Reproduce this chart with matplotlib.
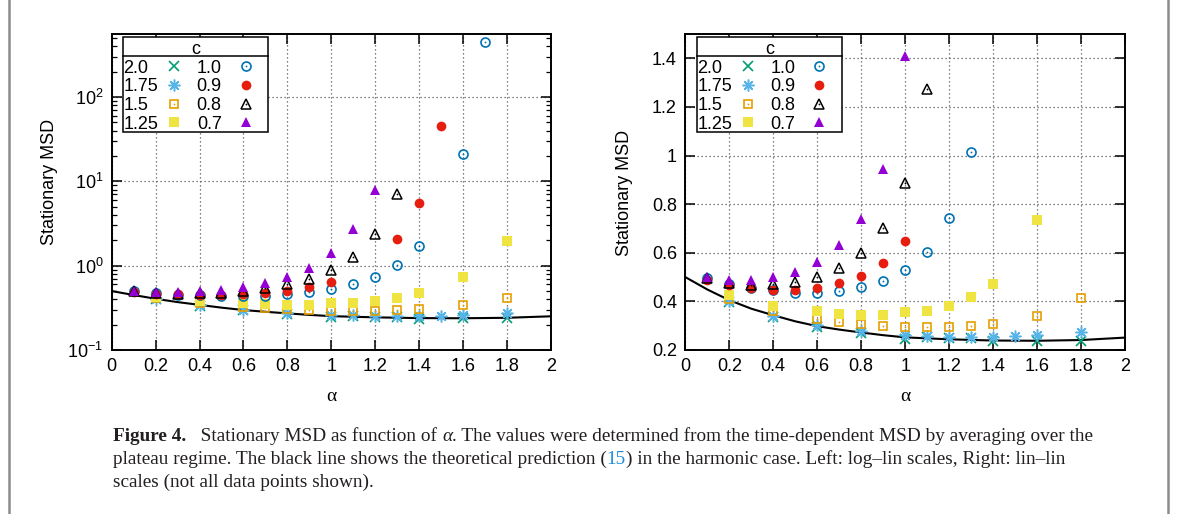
import numpy as np
import matplotlib
matplotlib.use("Agg")
import matplotlib.pyplot as plt
from matplotlib.lines import Line2D
from matplotlib.patches import Rectangle
from matplotlib.ticker import LogLocator, NullFormatter, FormatStrFormatter, FixedLocator

plt.rcParams['font.family'] = ['Liberation Sans', 'DejaVu Sans']
plt.rcParams['mathtext.default'] = 'regular'
plt.rcParams['font.size'] = 13

# stationary MSD for every c
alpha_c20 = [0.2, 0.4, 0.6, 0.8, 1.0, 1.1, 1.2, 1.3, 1.4, 1.6, 1.8]
msd_c20 = [0.399, 0.335, 0.295, 0.268, 0.247, 0.252, 0.249, 0.248, 0.236, 0.238, 0.238]

alpha_c175 = [0.2, 0.4, 0.6, 0.8, 1.0, 1.1, 1.2, 1.3, 1.4, 1.5, 1.6, 1.8]
msd_c175 = [0.401, 0.339, 0.302, 0.278, 0.262, 0.258, 0.254, 0.255, 0.255, 0.256, 0.261, 0.272]

alpha_c15 = [0.2, 0.4, 0.6, 0.7, 0.8, 0.9, 1.0, 1.1, 1.2, 1.3, 1.4, 1.6, 1.8]
msd_c15 = [0.41, 0.36, 0.326, 0.316, 0.305, 0.300, 0.294, 0.294, 0.294, 0.298, 0.307, 0.339, 0.412]

alpha_c125 = [0.2, 0.4, 0.6, 0.7, 0.8, 0.9, 1.0, 1.1, 1.2, 1.3, 1.4, 1.6, 1.8]
msd_c125 = [0.428, 0.381, 0.360, 0.350, 0.346, 0.346, 0.357, 0.362, 0.383, 0.417, 0.470, 0.734, 1.98]

alpha_c10 = [0.1, 0.2, 0.3, 0.4, 0.5, 0.6, 0.7, 0.8, 0.9, 1.0, 1.1, 1.2, 1.3, 1.4, 1.6, 1.7]
msd_c10 = [0.495, 0.470, 0.455, 0.446, 0.436, 0.435, 0.442, 0.460, 0.484, 0.529, 0.605, 0.741, 1.016, 1.7, 20.9, 455]

alpha_c09 = [0.1, 0.2, 0.3, 0.4, 0.5, 0.6, 0.7, 0.8, 0.9, 1.0, 1.3, 1.4, 1.5]
msd_c09 = [0.488, 0.466, 0.456, 0.447, 0.446, 0.456, 0.474, 0.504, 0.557, 0.648, 2.09, 5.6, 45]

alpha_c08 = [0.1, 0.2, 0.3, 0.4, 0.5, 0.6, 0.7, 0.8, 0.9, 1.0, 1.1, 1.2, 1.3]
msd_c08 = [0.495, 0.475, 0.466, 0.472, 0.479, 0.500, 0.539, 0.600, 0.701, 0.887, 1.274, 2.4, 7.0]

alpha_c07 = [0.1, 0.2, 0.3, 0.4, 0.5, 0.6, 0.7, 0.8, 0.9, 1.0, 1.1, 1.2]
msd_c07 = [0.500, 0.487, 0.487, 0.500, 0.521, 0.562, 0.631, 0.738, 0.944, 1.41, 2.7, 8.0]

# theoretical prediction (15), harmonic case
alpha_theory = [0.0, 0.1, 0.2, 0.3, 0.4, 0.5, 0.6, 0.7, 0.8, 0.9, 1.0, 1.2, 1.4, 1.6, 1.8, 2.0]
msd_theory = [0.500, 0.449, 0.405, 0.370, 0.343, 0.318, 0.298, 0.284, 0.272, 0.261, 0.252,
              0.244, 0.239, 0.238, 0.241, 0.251]

c_labels = ["2.0", "1.75", "1.5", "1.25", "1.0", "0.9", "0.8", "0.7"]
alphas = [alpha_c20, alpha_c175, alpha_c15, alpha_c125, alpha_c10, alpha_c09, alpha_c08, alpha_c07]
msds = [msd_c20, msd_c175, msd_c15, msd_c125, msd_c10, msd_c09, msd_c08, msd_c07]

# gnuplot-like point styles (style, draw centre dot)
styles = [
    (dict(marker='x', color='#009e73', ms=6.5, mew=1.2), False),
    (dict(marker=(8, 2, 0), color='#56b4e9', ms=8.5, mew=1.1), False),
    (dict(marker='s', color='#e69f00', mfc='none', ms=6.0, mew=1.2), True),
    (dict(marker='s', color='#f0e442', ms=7.0, mew=0), False),
    (dict(marker='o', color='#0072b2', mfc='none', ms=6.5, mew=1.2), True),
    (dict(marker='o', color='#e51e10', ms=7.0, mew=0), False),
    (dict(marker='^', color='black', mfc='none', ms=6.5, mew=1.1), True),
    (dict(marker='^', color='#9400d3', ms=7.0, mew=0), False),
]

W, H = 1178, 514
fig = plt.figure(figsize=(W / 100, H / 100), dpi=100)
ax1 = fig.add_axes([111.7 / W, 164 / H, 439 / W, 316 / H])
ax2 = fig.add_axes([685.3 / W, 164 / H, 439.7 / W, 316 / H])


def draw_points(ax, x, y, st, dot, **kw):
    ax.plot(x, y, ls='none', **st, **kw)
    if dot:
        ax.plot(x, y, ls='none', marker='o', ms=1.3, mew=0, color=st['color'], **kw)


def legend_box(ax):
    ax.add_patch(Rectangle((0.0257, 0.69), 0.3303, 0.2996, transform=ax.transAxes,
                           facecolor='white', edgecolor='black', lw=1.1, zorder=5, clip_on=False))
    ax.plot([0.0257, 0.3560], [0.930, 0.930], transform=ax.transAxes, color='black',
            lw=1.1, zorder=6, clip_on=False)
    ax.text(0.1913, 0.9367, "c", transform=ax.transAxes, ha='center', va='baseline', zorder=7)
    rows = [0.8775, 0.8196, 0.7595, 0.7003]
    for i in range(8):
        col = i // 4
        yb = rows[i % 4]
        if col == 0:
            ax.text(0.027, yb, c_labels[i], transform=ax.transAxes, ha='left', va='baseline', zorder=7)
            xm = 0.1419
        else:
            ax.text(0.2506, yb, c_labels[i], transform=ax.transAxes, ha='right', va='baseline', zorder=7)
            xm = 0.3052
        st, dot = styles[i]
        draw_points(ax, [xm], [yb + 0.0205], st, dot, transform=ax.transAxes, zorder=7, clip_on=False)


def setup(ax):
    ax.set_axisbelow(True)
    ax.plot(alpha_theory, msd_theory, color='black', lw=1.5, zorder=2)
    for x, y, (st, dot) in zip(alphas, msds, styles):
        draw_points(ax, x, y, st, dot, zorder=3)
    ax.set_xlim(0, 2)
    ax.xaxis.set_major_locator(FixedLocator(np.round(np.arange(0, 2.01, 0.2), 1)))
    ax.xaxis.set_major_formatter(FormatStrFormatter('%g'))
    ax.grid(True, which='major', color='0.35', lw=0.9, ls=(0, (1, 2.2)))
    ax.tick_params(which='major', direction='in', top=True, right=True, length=7, width=1.1,
                   pad=6, labelsize=13)
    ax.tick_params(which='minor', direction='in', top=True, right=True, length=3.5, width=0.9)
    for s in ax.spines.values():
        s.set_linewidth(1.4)
    legend_box(ax)


setup(ax1)
ax1.set_yscale('log')
ax1.set_ylim(0.1, 560)
ax1.yaxis.set_major_locator(LogLocator(base=10, numticks=10))
ax1.yaxis.set_minor_locator(LogLocator(base=10, subs=np.arange(2, 10), numticks=20))
ax1.yaxis.set_minor_formatter(NullFormatter())
ax1.xaxis.set_minor_locator(FixedLocator([]))

setup(ax2)
ax2.set_ylim(0.2, 1.5)
ax2.yaxis.set_major_locator(FixedLocator(np.round(np.arange(0.2, 1.41, 0.2), 1)))
ax2.yaxis.set_major_formatter(FormatStrFormatter('%g'))

ax1.text(-0.1428, 0.533, "Stationary MSD", rotation=90, transform=ax1.transAxes,
         ha='center', va='center', fontsize=13)
ax2.text(-0.1394, 0.496, "Stationary MSD", rotation=90, transform=ax2.transAxes,
         ha='center', va='center', fontsize=13)
for ax in (ax1, ax2):
    ax.text(0.5, -0.1456, "α", transform=ax.transAxes, ha='center', va='center',
            fontsize=14, family='Liberation Serif')

# page frame
for xp in (9, 1168):
    fig.add_artist(Line2D([xp / W, xp / W], [0, 1], transform=fig.transFigure,
                          color='#8c8c8c', lw=1.8))

# caption
ink = '#231f20'
link = '#1f8dd6'
caption = [
    [("Figure 4.", 'bold', 'normal', ink),
     ("   Stationary MSD as function of ", 'normal', 'normal', ink),
     ("α", 'normal', 'italic', ink),
     (". The values were determined from the time-dependent MSD by averaging over the", 'normal', 'normal', ink)],
    [("plateau regime. The black line shows the theoretical prediction (", 'normal', 'normal', ink),
     ("15", 'normal', 'normal', link),
     (") in the harmonic case. Left: log\u2013lin scales, Right: lin\u2013lin", 'normal', 'normal', ink)],
    [("scales (not all data points shown).", 'normal', 'normal', ink)],
]
cap_x0, cap_x1 = 113, 1093
cap_base = [441, 464, 487]

renderer = fig.canvas.get_renderer()
runs = []
for line, yb in zip(caption, cap_base):
    row = []
    for s, w, st, c in line:
        row.append(fig.text(0, 1 - yb / H, s, fontsize=13, fontweight=w, fontstyle=st, color=c,
                            family='Liberation Serif', ha='left', va='baseline'))
    runs.append(row)


def place(row):
    x = cap_x0
    for t in row:
        t.set_x(x / W)
        x = t.get_window_extent(renderer).x1
    return x


end = place(runs[0])
scale = (cap_x1 - cap_x0) / (end - cap_x0)
for row in runs:
    for t in row:
        t.set_fontsize(13 * scale)
    place(row)

fig.savefig("out.png", dpi=100)
